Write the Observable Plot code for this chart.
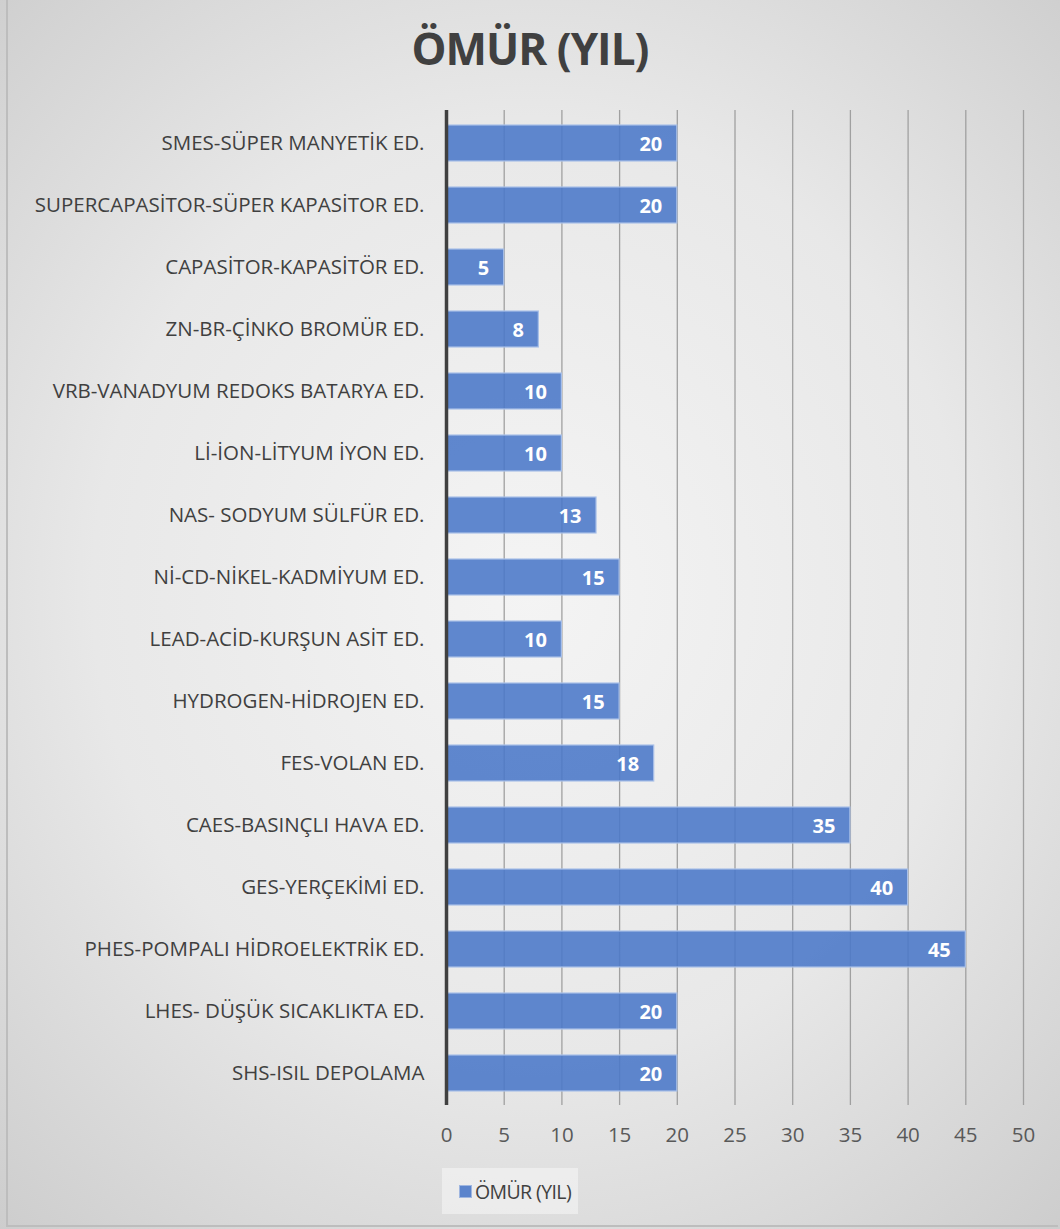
<!DOCTYPE html>
<html>
<head>
<meta charset="utf-8">
<script src="https://cdn.jsdelivr.net/npm/d3@7"></script>
<script src="https://cdn.jsdelivr.net/npm/@observablehq/plot@0.6"></script>
<style>
  html, body { margin: 0; padding: 0; }
  #wrap {
    position: relative; width: 1060px; height: 1229px; overflow: hidden;
    background: radial-gradient(ellipse 75% 70% at 50% 48%, #f4f4f4 0%, #e8e8e8 55%, #cdcdcd 100%);
    font-family: "Open Sans", sans-serif;
  }
  #frame { position: absolute; left: 6px; top: 0; width: 1052px; height: 1227px; border-left: 2px solid #bdbdbd; border-bottom: 2px solid #bdbdbd; box-sizing: border-box; }
  #title { position: absolute; left: 0; width: 1060px; top: 18px; text-align: center; font-size: 44px; font-weight: 700; color: #404040; letter-spacing: -1px; }
  #chart { position: absolute; left: 0; top: 0; }
  #legend { position: absolute; left: 442px; top: 1168px; width: 136px; height: 46px; background: rgba(245,245,245,0.6); display: flex; align-items: center; color: #404040; white-space: nowrap; }
  #legend .sw { flex: none; width: 11px; height: 11px; background: #5b84cc; border: 1px solid #9fb6e0; margin-left: 17px; margin-right: 3px; }
  #legend span { font-size: 19.5px; letter-spacing: -0.6px; }
</style>
</head>
<body>
<div id="wrap">
  <div id="frame"></div>
  <div id="title">ÖMÜR (YIL)</div>
  <div id="chart"></div>
  <div id="legend"><div class="sw"></div><span>ÖMÜR (YIL)</span></div>
</div>
<script>
const categories = [
  "SMES-SÜPER MANYETİK ED.",
  "SUPERCAPASİTOR-SÜPER KAPASİTOR ED.",
  "CAPASİTOR-KAPASİTÖR ED.",
  "ZN-BR-ÇİNKO BROMÜR ED.",
  "VRB-VANADYUM REDOKS BATARYA ED.",
  "Lİ-İON-LİTYUM İYON ED.",
  "NAS- SODYUM SÜLFÜR ED.",
  "Nİ-CD-NİKEL-KADMİYUM ED.",
  "LEAD-ACİD-KURŞUN ASİT ED.",
  "HYDROGEN-HİDROJEN ED.",
  "FES-VOLAN ED.",
  "CAES-BASINÇLI HAVA ED.",
  "GES-YERÇEKİMİ ED.",
  "PHES-POMPALI HİDROELEKTRİK ED.",
  "LHES- DÜŞÜK SICAKLIKTA ED.",
  "SHS-ISIL DEPOLAMA"
];
const lifetimes = [20, 20, 5, 8, 10, 10, 13, 15, 10, 15, 18, 35, 40, 45, 20, 20];
const xTicks = [0, 5, 10, 15, 20, 25, 30, 35, 40, 45, 50];

const data = categories.map((c, i) => ({ name: c, value: lifetimes[i] }));

const chart = Plot.plot({
  width: 1060,
  height: 1229,
  marginTop: 110,
  marginBottom: 124,
  marginLeft: 446,
  marginRight: 37,
  style: { background: "transparent", fontFamily: "'Open Sans', sans-serif" },
  x: { domain: [0, 50], ticks: xTicks, label: null },
  y: { domain: categories, paddingInner: 0.42, paddingOuter: 0.21, label: null },
  marks: [
    Plot.ruleX(xTicks.slice(1), { stroke: "#a0a0a0", strokeWidth: 1.3 }),
    Plot.barX(data, { x: "value", y: "name", fill: "#4a78c8", fillOpacity: 0.88, stroke: "#a9c0e8", strokeWidth: 1.2 }),
    Plot.text(data, { x: "value", y: "name", text: d => String(d.value), textAnchor: "end", dx: -15, dy: 1, fill: "white", fontWeight: "bold", fontSize: 20 }),
    Plot.ruleX([0], { stroke: "#404040", strokeWidth: 3.5 }),
    Plot.axisX({ ticks: xTicks, tickSize: 0, tickPadding: 22, fontSize: 20.5, color: "#595959", label: null }),
    Plot.axisY({ tickSize: 0, tickPadding: 22, fontSize: 20.5, color: "#404040", label: null })
  ]
});
document.getElementById("chart").appendChild(chart);
</script>
</body>
</html>
